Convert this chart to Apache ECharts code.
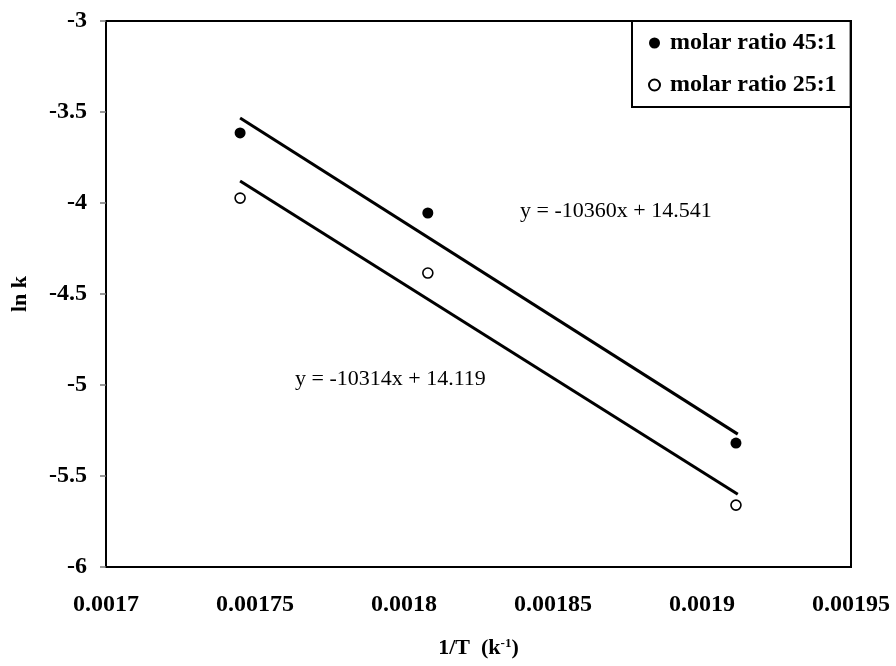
<!DOCTYPE html>
<html>
<head>
<meta charset="utf-8">
<script src="https://cdn.jsdelivr.net/npm/echarts@6/dist/echarts.min.js"></script>
<style>html,body{margin:0;padding:0;background:#fff}#c{width:896px;height:666px}</style>
</head>
<body>
<div id="c"></div>
<script>
// Data
const invT = [0.001745, 0.001808, 0.0019114];
const lnk45 = [-3.615, -4.055, -5.319];
const lnk25 = [-3.973, -4.385, -5.660];
// trend line endpoints
const fitX = [0.001745, 0.001912];
const fit45 = [-3.533, -5.270];
const fit25 = [-3.879, -5.600];
const seriesNames = ['molar ratio 45:1', 'molar ratio 25:1'];
const eq45 = 'y = -10360x + 14.541';
const eq25 = 'y = -10314x + 14.119';

const FONT = 'Liberation Serif';
const pairs = (xs, ys) => xs.map((x, i) => [x, ys[i]]);

const chart = echarts.init(document.getElementById('c'), null, {renderer: 'canvas'});
chart.setOption({
  backgroundColor: '#ffffff',
  animation: false,
  grid: {left: 106, right: 45, top: 21, bottom: 99, show: true, borderColor: '#000', borderWidth: 2, backgroundColor: 'transparent'},
  xAxis: {
    type: 'value', min: 0.0017, max: 0.00195, interval: 0.00005,
    name: '1/T  (k{sup|-1})', nameLocation: 'middle', nameGap: 70,
    nameTextStyle: {fontFamily: FONT, fontWeight: 'bold', fontSize: 22, color: '#000',
      rich: {sup: {fontFamily: FONT, fontWeight: 'bold', fontSize: 13, color: '#000', verticalAlign: 'top', padding: [0,0,10,0]}}},
    axisLine: {show: true, lineStyle: {color: '#000', width: 2}},
    axisTick: {show: false},
    splitLine: {show: false},
    axisLabel: {fontFamily: FONT, fontWeight: 'bold', fontSize: 24, color: '#000', margin: 26,
      formatter: v => String(Number(v.toFixed(5)))}
  },
  yAxis: {
    type: 'value', min: -6, max: -3, interval: 0.5,
    name: 'ln k', nameLocation: 'middle', nameGap: 75, nameRotate: 90,
    nameTextStyle: {fontFamily: FONT, fontWeight: 'bold', fontSize: 22, color: '#000'},
    axisLine: {show: true, lineStyle: {color: '#000', width: 2}},
    axisTick: {show: true, inside: false, length: 6, lineStyle: {color: '#777', width: 1.5}},
    splitLine: {show: false},
    axisLabel: {fontFamily: FONT, fontWeight: 'bold', fontSize: 24, color: '#000', margin: 19,
      formatter: v => String(Number(v.toFixed(2)))}
  },
  legend: {
    data: seriesNames, orient: 'vertical', left: 632, top: 21,
    backgroundColor: '#fff', borderColor: '#000', borderWidth: 2,
    padding: [10, 14, 10, 16], itemGap: 18, itemWidth: 11, itemHeight: 11,
    textStyle: {fontFamily: FONT, fontWeight: 'bold', fontSize: 24, color: '#000', padding: [0, 0, 0, 5]}
  },
  graphic: [
    {type: 'text', left: 520, top: 200, style: {text: eq45, font: '22px "Liberation Serif"', fill: '#000'}},
    {type: 'text', left: 295, top: 368, style: {text: eq25, font: '22px "Liberation Serif"', fill: '#000'}}
  ],
  series: [
    {type: 'line', data: pairs(fitX, fit45), symbol: 'none', lineStyle: {color: '#000', width: 3}, silent: true, z: 1},
    {type: 'line', data: pairs(fitX, fit25), symbol: 'none', lineStyle: {color: '#000', width: 3}, silent: true, z: 1},
    {name: seriesNames[0], type: 'scatter', data: pairs(invT, lnk45), symbol: 'circle', symbolSize: 11,
      itemStyle: {color: '#000', opacity: 1}, z: 3},
    {name: seriesNames[1], type: 'scatter', data: pairs(invT, lnk25), symbol: 'circle', symbolSize: 10,
      itemStyle: {color: '#fff', borderColor: '#000', borderWidth: 1.6, opacity: 1}, z: 3}
  ]
});
</script>
</body>
</html>
